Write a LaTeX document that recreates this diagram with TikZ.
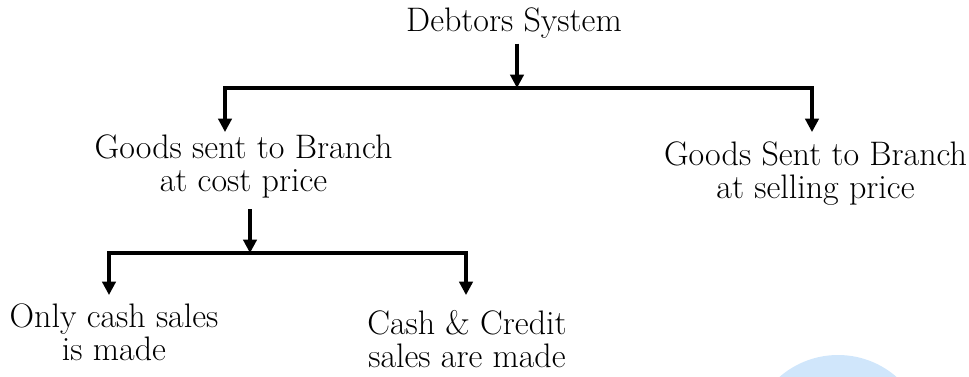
\documentclass[tikz,border=0pt]{standalone}
\usetikzlibrary{arrows.meta}
\definecolor{wm}{RGB}{208,230,251}
\begin{document}
\begin{tikzpicture}[x=0.75pt,y=-0.75pt,
  lbl/.style={align=center,inner sep=0pt,font=\fontsize{25.5}{24.5}\selectfont},
  ln/.style={line width=2.3pt},
  arr/.style={ln,-{Triangle[width=10pt,length=10pt]}}]
\useasboundingbox (0,0) rectangle (969,377);
\begin{scope}
\clip (0,0) rectangle (969,377);
\fill[wm] (838,444) circle (89);
\end{scope}
% nodes
\node[lbl,anchor=base] (top) at (514,32) {Debtors System};
\node[lbl,anchor=north] (cost) at (243.5,134.4) {Goods sent to Branch\\at cost price};
\node[lbl,anchor=north] (sell) at (815.5,141.4) {Goods Sent to Branch\\at selling price};
\node[lbl,anchor=north] (cash) at (114,303.4) {Only cash sales\\is made};
\node[lbl,anchor=north] (cc) at (467,310.4) {Cash \& Credit\\sales are made};
% junctions
\coordinate (j1) at (517,88);
\coordinate (jL) at (225,88);
\coordinate (jR) at (812,88);
\coordinate (j2) at (250,253);
\coordinate (kL) at (109,253);
\coordinate (kR) at (466,253);
% connectors
\draw[arr] ([yshift=-3.3pt]top.south -| j1) -- (j1);
\draw[ln] ([xshift=-1.15pt]jL) -- ([xshift=1.15pt]jR);
\draw[arr] (jL) -- ([yshift=1.8pt]jL |- cost.north);
\draw[arr] (jR) -- ([yshift=7pt]jR |- sell.north);
\draw[arr] ([yshift=-8.5pt]cost.south -| j2) -- (j2);
\draw[ln] ([xshift=-1.15pt]kL) -- ([xshift=1.15pt]kR);
\draw[arr] (kL) -- ([yshift=6.3pt]kL |- cash.north);
\draw[arr] (kR) -- ([yshift=11.5pt]kR |- cc.north);
\end{tikzpicture}
\end{document}
